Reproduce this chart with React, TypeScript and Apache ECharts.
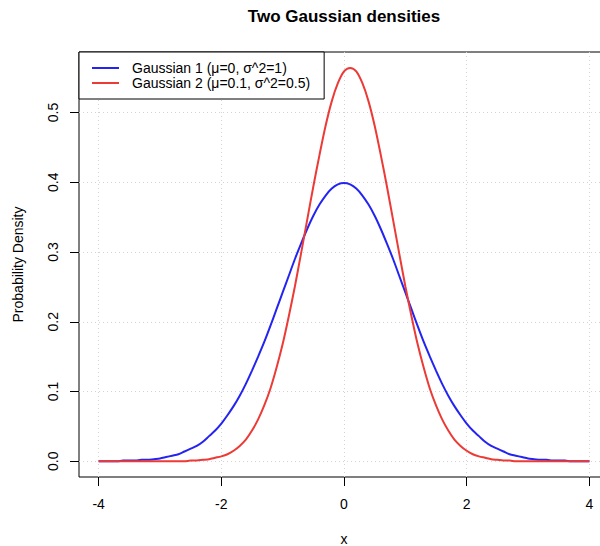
import React, { useEffect, useRef } from "react";
import * as echarts from "echarts";

const TITLE = "Two Gaussian densities";
const X_NAME = "x";
const Y_NAME = "Probability Density";
const SERIES_NAMES = ["Gaussian 1 (μ=0, σ^2=1)", "Gaussian 2 (μ=0.1, σ^2=0.5)"];

const XS = [
  -4.0, -3.9, -3.8, -3.7, -3.6, -3.5, -3.4, -3.3, -3.2, -3.1,
  -3.0, -2.9, -2.8, -2.7, -2.6, -2.5, -2.4, -2.3, -2.2, -2.1,
  -2.0, -1.9, -1.8, -1.7, -1.6, -1.5, -1.4, -1.3, -1.2, -1.1,
  -1.0, -0.9, -0.8, -0.7, -0.6, -0.5, -0.4, -0.3, -0.2, -0.1,
  0.0,
  0.1, 0.2, 0.3, 0.4, 0.5, 0.6, 0.7, 0.8, 0.9, 1.0,
  1.1, 1.2, 1.3, 1.4, 1.5, 1.6, 1.7, 1.8, 1.9, 2.0,
  2.1, 2.2, 2.3, 2.4, 2.5, 2.6, 2.7, 2.8, 2.9, 3.0,
  3.1, 3.2, 3.3, 3.4, 3.5, 3.6, 3.7, 3.8, 3.9, 4.0,
];
const G1 = [
  0.0, 0.0, 0.0, 0.0, 0.001, 0.001, 0.001, 0.002, 0.002, 0.003,
  0.004, 0.006, 0.008, 0.01, 0.014, 0.018, 0.022, 0.028, 0.036, 0.044,
  0.054, 0.066, 0.079, 0.094, 0.111, 0.13, 0.15, 0.171, 0.194, 0.218,
  0.242, 0.266, 0.29, 0.312, 0.333, 0.352, 0.368, 0.381, 0.391, 0.397,
  0.399,
  0.397, 0.391, 0.381, 0.368, 0.352, 0.333, 0.312, 0.29, 0.266, 0.242,
  0.218, 0.194, 0.171, 0.15, 0.13, 0.111, 0.094, 0.079, 0.066, 0.054,
  0.044, 0.036, 0.028, 0.022, 0.018, 0.014, 0.01, 0.008, 0.006, 0.004,
  0.003, 0.002, 0.002, 0.001, 0.001, 0.001, 0.0, 0.0, 0.0, 0.0,
];
const G2 = [
  0.0, 0.0, 0.0, 0.0, 0.0, 0.0, 0.0, 0.0, 0.0, 0.0,
  0.0, 0.0, 0.0, 0.0, 0.0, 0.001, 0.001, 0.002, 0.003, 0.005,
  0.007, 0.01, 0.015, 0.022, 0.031, 0.044, 0.06, 0.08, 0.104, 0.134,
  0.168, 0.208, 0.251, 0.298, 0.346, 0.394, 0.439, 0.481, 0.516, 0.542,
  0.559,
  0.564, 0.559, 0.542, 0.516, 0.481, 0.439, 0.394, 0.346, 0.298, 0.251,
  0.208, 0.168, 0.134, 0.104, 0.08, 0.06, 0.044, 0.031, 0.022, 0.015,
  0.01, 0.007, 0.005, 0.003, 0.002, 0.001, 0.001, 0.0, 0.0, 0.0,
  0.0, 0.0, 0.0, 0.0, 0.0, 0.0, 0.0, 0.0, 0.0, 0.0,
];
const X_TICKS = [-4, -2, 0, 2, 4];
const Y_TICKS = [0, 0.1, 0.2, 0.3, 0.4, 0.5];
const X_RANGE = [-4.32, 4.32];
const Y_RANGE = [-0.0226, 0.5868];

const FONT = "'Liberation Sans', Arial, Helvetica, sans-serif";
const BLUE = "#2424f2";
const RED = "#ec3a36";
const GRID_LINE = { show: true, lineStyle: { type: [1, 3], color: "#d3d3d3", width: 1 } };

export default function App() {
  const ref = useRef<HTMLDivElement>(null);
  useEffect(() => {
    if (!ref.current) return;
    const chart = echarts.init(ref.current, undefined, { renderer: "svg" });
    const pair = (ys: number[]) => XS.map((x, i) => [x, ys[i]]);
    chart.setOption({
      animation: false,
      backgroundColor: "#fff",
      textStyle: { fontFamily: FONT },
      title: {
        text: TITLE,
        left: 344,
        top: 8,
        padding: 0,
        textAlign: "center",
        textStyle: { fontSize: 17, fontWeight: "bold", color: "#000", fontFamily: FONT },
      },
      legend: {
        orient: "vertical",
        left: 79,
        top: 52,
        padding: [9, 14, 9, 13],
        itemGap: 1,
        itemWidth: 27,
        itemHeight: 14,
        icon: "path://M0 0H27V2H0Z",
        borderColor: "#000",
        borderWidth: 1,
        borderRadius: 0,
        backgroundColor: "#fff",
        textStyle: { fontSize: 14, color: "#000", fontFamily: FONT, padding: [0, 0, 0, 8] },
        data: SERIES_NAMES,
      },
      grid: {
        left: 79,
        right: -9,
        top: 52,
        bottom: 69,
        containLabel: false,
        outerBoundsMode: "none",
        show: true,
        borderColor: "#000",
        borderWidth: 1,
        backgroundColor: "transparent",
      },
      xAxis: {
        type: "value",
        min: X_RANGE[0],
        max: X_RANGE[1],
        name: X_NAME,
        nameLocation: "middle",
        nameGap: 55,
        nameTextStyle: { fontSize: 14, color: "#000", fontFamily: FONT },
        axisLine: { show: false, onZero: false },
        axisTick: { show: true, length: 9, customValues: X_TICKS, lineStyle: { color: "#000" } },
        axisLabel: { customValues: X_TICKS, margin: 20, fontSize: 14, color: "#000", fontFamily: FONT, formatter: (v: number) => String(v) },
        splitLine: GRID_LINE,
      },
      yAxis: {
        type: "value",
        min: Y_RANGE[0],
        max: Y_RANGE[1],
        name: Y_NAME,
        nameLocation: "middle",
        nameGap: 54,
        nameTextStyle: { fontSize: 14, color: "#000", fontFamily: FONT },
        axisLine: { show: false, onZero: false },
        axisTick: { show: true, length: 9, customValues: Y_TICKS, lineStyle: { color: "#000" } },
        axisLabel: {
          customValues: Y_TICKS,
          rotate: 90,
          margin: 19,
          fontSize: 14,
          color: "#000",
          fontFamily: FONT,
          formatter: (v: number) => v.toFixed(1),
        },
        splitLine: GRID_LINE,
      },
      series: [
        {
          name: SERIES_NAMES[0],
          type: "line",
          data: pair(G1),
          symbol: "none",
          smooth: 0.3,
          lineStyle: { color: BLUE, width: 2 },
          itemStyle: { color: BLUE },
        },
        {
          name: SERIES_NAMES[1],
          type: "line",
          data: pair(G2),
          symbol: "none",
          smooth: 0.3,
          lineStyle: { color: RED, width: 2 },
          itemStyle: { color: RED },
        },
      ],
    });
    return () => chart.dispose();
  }, []);
  return (
    <div
      ref={ref}
      style={{ position: "fixed", left: 0, top: 0, width: 600, height: 546 }}
    />
  );
}
